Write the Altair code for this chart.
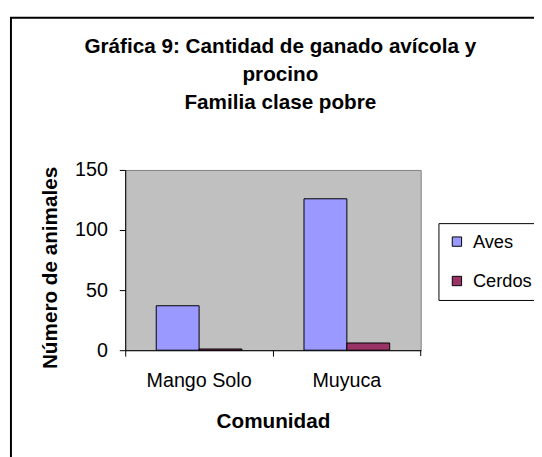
import altair as alt
import pandas as pd

comunidades = ["Mango Solo", "Muyuca"]
series = ["Aves", "Cerdos"]
aves = [37, 126]
cerdos = [1, 6]
colores = ["#9999FF", "#993366"]
y_ticks = [0, 50, 100, 150]
titulo = ["Gráfica 9: Cantidad de ganado avícola y", "procino", "Familia clase pobre"]

rows = []
for i, c in enumerate(comunidades):
    rows.append({"Comunidad": c, "Serie": "Aves", "Valor": aves[i]})
    rows.append({"Comunidad": c, "Serie": "Cerdos", "Valor": cerdos[i]})
df = pd.DataFrame(rows)

FONT = "Liberation Sans"
W, H = 300, 183

frame = alt.Chart(pd.DataFrame({"k": [0]})).mark_rect(
    fill="white", fillOpacity=0, stroke="black", strokeWidth=2
).encode(
    x=alt.value(-116), x2=alt.value(440), y=alt.value(-154.5), y2=alt.value(320)
)

title = alt.Chart(pd.DataFrame({"k": [0]})).mark_text(
    text=titulo, font=FONT, fontSize=21, fontWeight="bold", lineHeight=28.5,
    align="center", baseline="alphabetic", color="black"
).encode(x=alt.value(157.5), y=alt.value(-119))

bars = alt.Chart(df).mark_bar(stroke="black", strokeWidth=1).encode(
    x=alt.X(
        "Comunidad:N", sort=comunidades,
        scale=alt.Scale(paddingInner=0, paddingOuter=0),
        axis=alt.Axis(
            title="Comunidad", labelAngle=0, bandPosition=0,
            labelFont=FONT, labelFontSize=20, labelColor="black", labelPadding=15,
            tickSize=6, tickColor="black", domainColor="black",
            titleFont=FONT, titleFontSize=21, titleFontWeight="bold", titleColor="black",
            titlePadding=20,
        ),
    ),
    xOffset=alt.XOffset("Serie:N", sort=series, scale=alt.Scale(paddingInner=0, paddingOuter=0.724)),
    y=alt.Y(
        "Valor:Q", scale=alt.Scale(domain=[0, 150], nice=False),
        axis=alt.Axis(
            title="Número de animales", values=y_ticks, grid=False,
            labelFont=FONT, labelFontSize=20, labelColor="black", labelPadding=12,
            tickSize=6, tickColor="black", domainColor="black",
            titleFont=FONT, titleFontSize=21, titleFontWeight="bold", titleColor="black",
            titlePadding=14, titleY=99,
        ),
    ),
    color=alt.Color(
        "Serie:N", scale=alt.Scale(domain=series, range=colores),
        legend=alt.Legend(
            title=None, orient="none", legendX=318, legendY=54,
            padding=9.5, rowPadding=21, labelFont=FONT, labelFontSize=18.5, labelColor="black",
            labelOffset=7, symbolType="square", symbolSize=90,
            symbolStrokeColor="black", symbolStrokeWidth=1,
            strokeColor="black", fillColor="white",
        ),
    ),
)

end_tick = alt.Chart(pd.DataFrame({"k": [0]})).mark_rule(color="black").encode(
    x=alt.value(W), y=alt.value(H), y2=alt.value(H + 6)
)

chart = alt.layer(frame, title, bars, end_tick).properties(
    width=W, height=H,
    autosize=alt.AutoSizeParams(type="none"),
    padding={"left": 119, "top": 161, "right": 115, "bottom": 105},
    background="white",
).configure_view(fill="#C0C0C0", stroke="#808080", strokeWidth=1)

chart.save("out.html", embed_options={"renderer": "svg", "actions": False})
